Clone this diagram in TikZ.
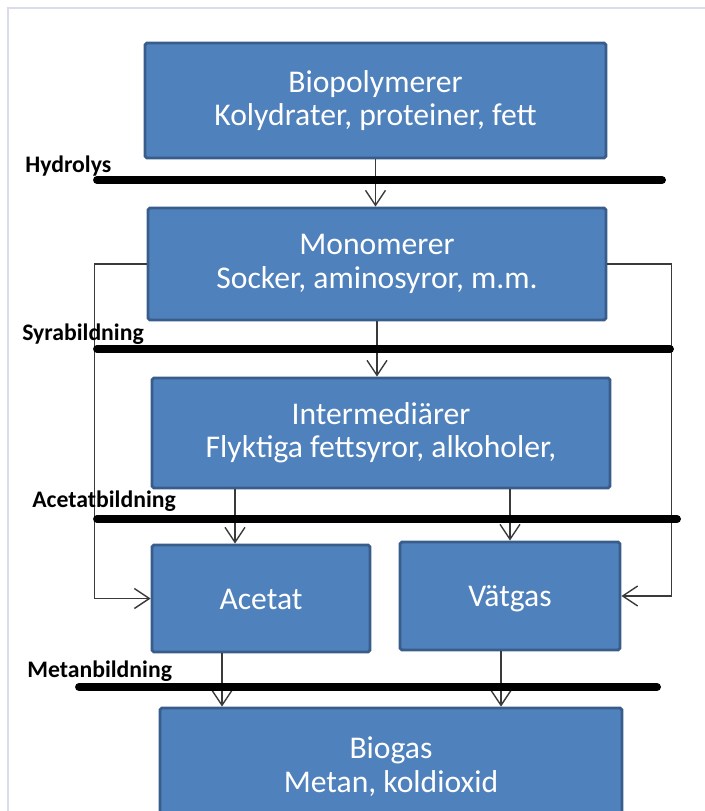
\documentclass[tikz,border=0pt]{standalone}
\usepackage{fontspec}
\setmainfont{Carlito}
\usetikzlibrary{calc, arrows.meta}

\definecolor{boxblue}{HTML}{4F81BD}
\definecolor{boxedge}{HTML}{385D8A}
\definecolor{framegray}{HTML}{D8DDE8}
\definecolor{arrowgray}{HTML}{3A3A3A}

\newcommand{\boxstrut}{\rule[-8pt]{0pt}{28pt}}

\begin{document}
\begin{tikzpicture}[x=0.02cm, y=-0.02cm,
    stage/.style={
      rectangle,
      draw=boxedge,
      line width=1.6pt,
      fill=boxblue,
      rounded corners=1pt,
      text=white,
      align=center,
      inner sep=0pt,
      font=\fontsize{18}{19}\selectfont
    },
    phase/.style={anchor=west, inner sep=0pt, font=\fontsize{13.5}{15}\selectfont\bfseries},
    bar/.style={line width=4.5pt, line cap=round},
    flow/.style={draw=arrowgray, line width=0.8pt},
    >={Straight Barb[length=0.3cm,width=0.4cm]}]
  \clip (0,0) rectangle (705,811);
  \draw[framegray, line width=1pt] (8,811) -- (8,8) -- (705,8);

  % process boxes
  \node[stage, minimum width=9.22cm, minimum height=2.3cm] (biopoly) at (375.5,100.5) {Biopolymerer\\Kolydrater, proteiner, fett};
  \node[stage, minimum width=9.16cm, minimum height=2.24cm] (mono) at (377,264) {Monomerer\\Socker, aminosyror, m.m.};
  \node[stage, minimum width=9.16cm, minimum height=2.2cm] (inter) at (381,433) {Intermediärer\\Flyktiga fettsyror, alkoholer,};
  \node[stage, minimum width=4.36cm, minimum height=2.14cm] (acetat) at (261,598.5) {\boxstrut Acetat};
  \node[stage, minimum width=4.4cm, minimum height=2.16cm] (vatgas) at (510,596) {\boxstrut Vätgas};
  \node[stage, minimum width=9.24cm, minimum height=2.34cm] (biogas) at (391,766.5) {Biogas\\Metan, koldioxid};

  % connectors
  \draw[flow,->] (biopoly.south) -- (biopoly.south |- mono.north);
  \draw[flow,->] (mono.south) -- (mono.south |- inter.north);
  \draw[flow,->] (mono.west) -- ++(-52,0) |- (acetat.west);
  \draw[flow,->] (mono.east) -- ++(64,0) |- (vatgas.east);
  \draw[flow,->] ($(inter.south -| acetat.north)+(-26,0)$) -- ($(acetat.north)+(-26,0)$);
  \draw[flow,->] (inter.south -| vatgas.north) -- (vatgas.north);
  \draw[flow,->] ($(acetat.south)+(-39,0)$) -- ($(acetat.south |- biogas.north)+(-39,0)$);
  \draw[flow,->] ($(vatgas.south)+(-9,0)$) -- ($(vatgas.south |- biogas.north)+(-9,0)$);

  % phase bars
  \draw[bar] (97,180) -- (662,180);
  \draw[bar] (97,349) -- (670,349);
  \draw[bar] (97,519) -- (677,519);
  \draw[bar] (79,687) -- (657,687);

  \node[phase] (hydro) at (25,166) {Hydrolys};
  \node[phase] (syra) at (22,334) {Syrabildning};
  \node[phase] (acet) at (32,501) {Acetatbildning};
  \node[phase] (metan) at (27,671) {Metanbildning};
\end{tikzpicture}
\end{document}
